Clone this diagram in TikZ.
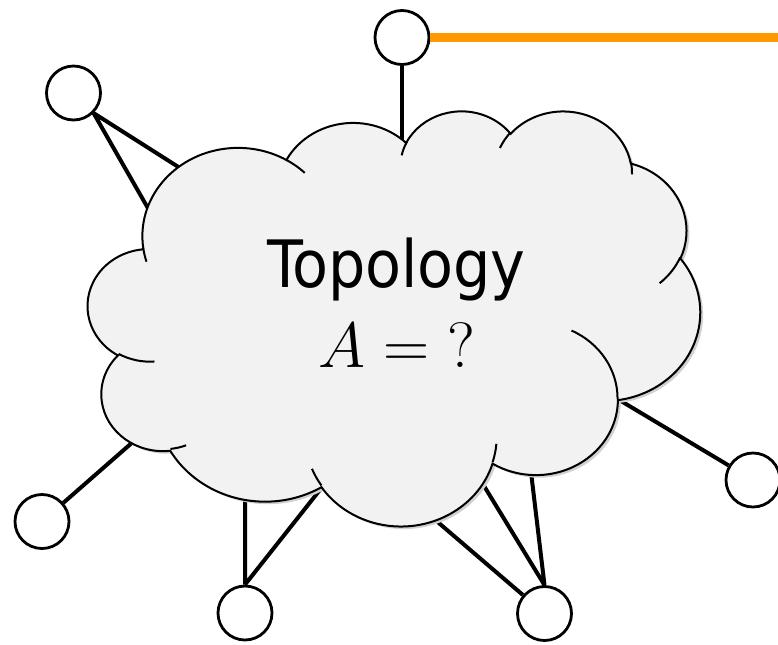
\documentclass[tikz,border=0pt]{standalone}
\usepackage{fontspec}
\newfontfamily\labelfont{DejaVu Sans Condensed}
\usepackage{tikz}
\definecolor{cloudgray}{HTML}{F2F2F2}
\definecolor{wireorange}{HTML}{FF9900}

\newcommand\cloudarc[4]{\pgfextra{%
    \pgfmathparse{atan2(#1*sin(#3),#2*cos(#3))}\xdef\arcfrom{\pgfmathresult}%
    \pgfmathparse{atan2(#1*sin(#3+#4),#2*cos(#3+#4))}%
    \pgfmathparse{\arcfrom+mod(\pgfmathresult-\arcfrom+720,360)}\xdef\arcto{\pgfmathresult}}%
  arc[start angle=\arcfrom, end angle=\arcto, x radius=#1, y radius=#2]}
\newcommand\cloudoutline{(39.00,143.70)
  \cloudarc{67.53}{91.90}{-190.48748}{123.78053}
  \cloudarc{53.33}{72.67}{-144.10238}{89.94523}
  \cloudarc{43.65}{59.45}{-145.80792}{99.72302}
  \cloudarc{48.57}{65.95}{-130.98607}{117.24173}
  \cloudarc{53.33}{72.73}{-78.70888}{109.02692}
  \cloudarc{67.75}{92.20}{-46.26725}{130.269}
  \cloudarc{57.85}{78.67}{0.62502}{114.03333}
  \cloudarc{67.52}{92.15}{22.4516}{115.17255}
  \cloudarc{77.20}{105.43}{66.24263}{75.71102}
  \cloudarc{43.60}{59.18}{-274.94208}{146.73557}
  \cloudarc{43.45}{59.45}{-246.8285}{152.51885} -- cycle}

\begin{document}
\begin{tikzpicture}[x=0.75pt, y=-0.75pt,
    host/.style={circle, draw, fill=white, line width=2.1pt, minimum size=40.5pt, inner sep=0pt},
    link/.style={line width=3pt},
    cloud/.style={fill=cloudgray, draw, line width=1.5pt}]
    \useasboundingbox (0,0) rectangle (778,644);
    \node[host] (top) at (402,37.5) {};
    \node[host] (nw) at (73.5,93) {};
    \node[host] (sw) at (42,521.5) {};
    \node[host] (s) at (245,613) {};
    \node[host] (se) at (544.5,613.5) {};
    \node[host] (e) at (753,480) {};
    \coordinate (edge) at (780,37.5);
    \coordinate (ct) at (402,146);
    \coordinate (cnw1) at (180,168);
    \coordinate (cnw2) at (149,210);
    \coordinate (csw) at (134,441);
    \coordinate (cs1) at (245,497);
    \coordinate (cs2) at (323,486);
    \coordinate (cse1) at (433,518);
    \coordinate (cse2) at (481,481);
    \coordinate (cse3) at (531,472);
    \coordinate (ce) at (616,398);
    \draw[wireorange, line width=6.5pt] (top) -- (edge);
    \draw[link] (top) -- (ct);
    \draw[link] (nw.-45) -- (cnw1) (nw.-45) -- (cnw2);
    \draw[link] (sw) -- (csw);
    \draw[link] (s.north) -- (cs1) (s.north) -- (cs2);
    \draw[link] (se.north) -- (cse2) (se.north) -- (cse3) (se) -- (cse1);
    \draw[link] (e) -- (ce);
    \begin{scope}[shift={(88,110)}, xscale=1.41667, yscale=0.96065]
        \fill[black!18, xshift=1.5pt, yshift=-2pt] \cloudoutline;
        \filldraw[cloud] \cloudoutline;
        \draw[line width=1.5pt]
            (46.93,261.77) \cloudarc{43.45}{59.45}{86.742}{26.4295}
            (69.28,348.99) \cloudarc{43.60}{59.18}{73.61047}{11.44747}
            (164.78,390.90) \cloudarc{67.52}{92.15}{137.62415}{14.0811}
            (288.27,347.51) \cloudarc{67.52}{92.15}{6.45327}{15.99835}
            (341.29,229.54) \cloudarc{57.85}{78.67}{-70.29235}{70.91737}
            (417.98,153.54) \cloudarc{53.33}{72.73}{30.31803}{27.7515}
            (383.24,54.26) \cloudarc{48.57}{65.95}{-13.74433}{14.8589}
            (290.78,39.52) \cloudarc{48.57}{65.95}{-149.18145}{18.19537}
            (221.41,47.20) \cloudarc{43.65}{59.45}{-163.49427}{17.68635}
            (140.00,51.92) \cloudarc{67.53}{91.90}{-66.70695}{12.31935}
            (41.27,157.89) \cloudarc{67.53}{91.90}{157.65435}{11.85817};
    \end{scope}
    \node[anchor=base, font=\labelfont\fontsize{49}{59}\selectfont] (title) at (396.5,287) {Topology};
    \node[anchor=base, font=\Huge, scale=1.93, transform shape] (query) at (397,367) {$A = {?}$};
\end{tikzpicture}
\end{document}
